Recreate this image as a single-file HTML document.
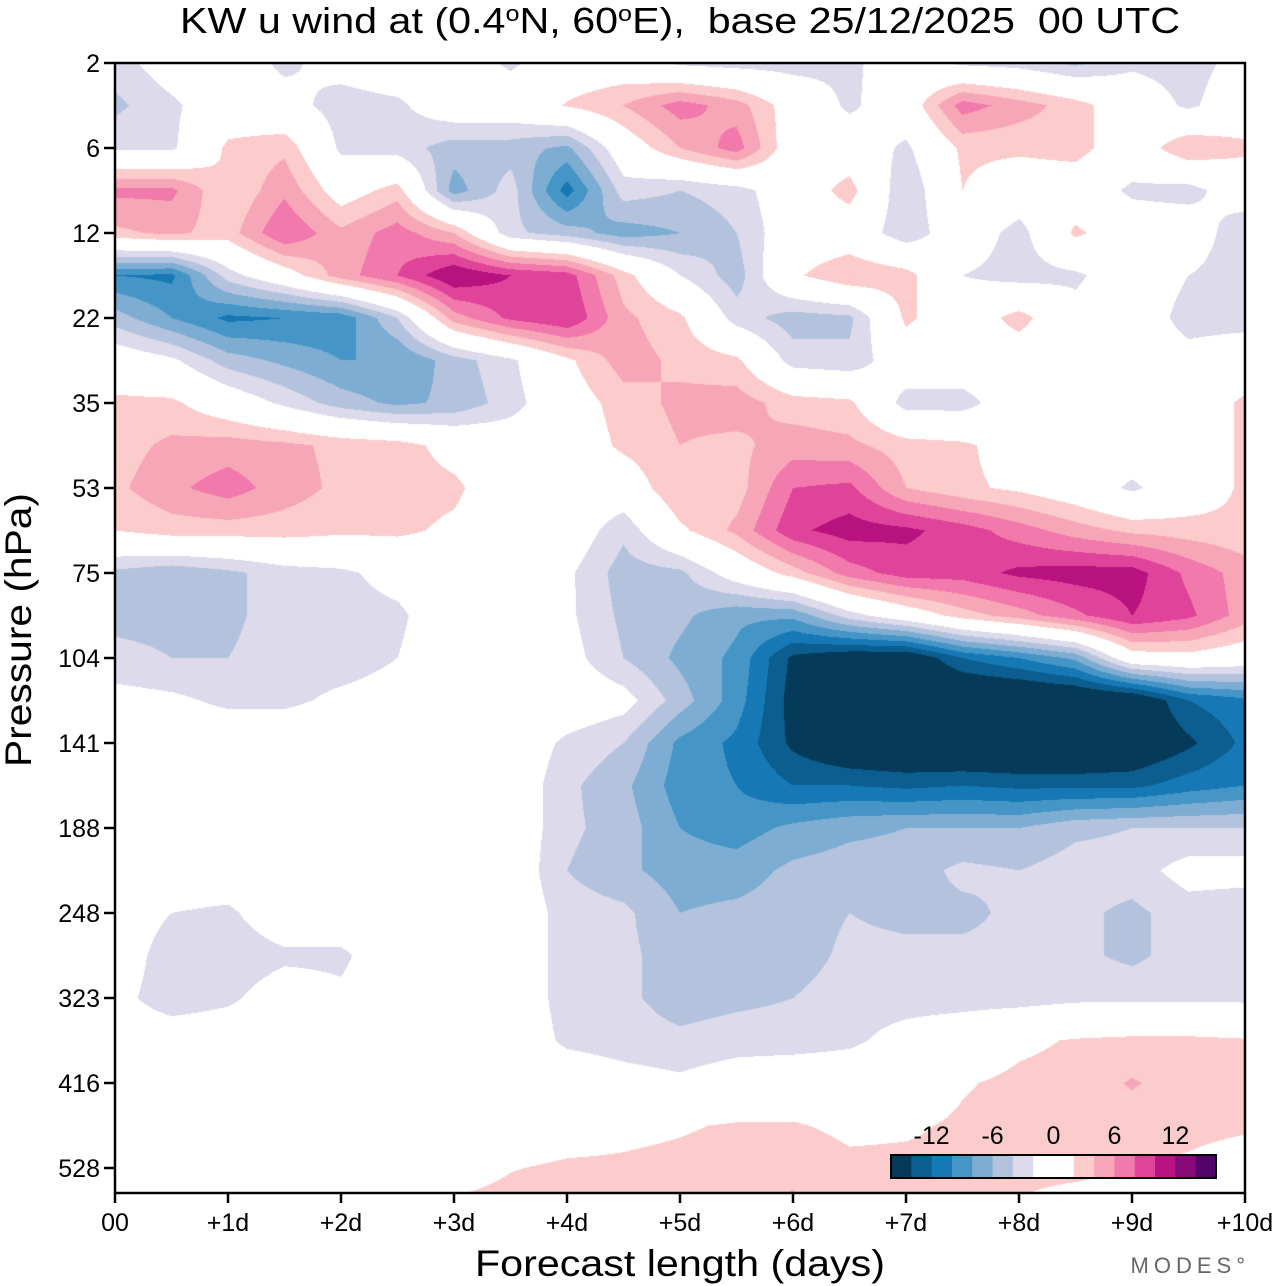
<!DOCTYPE html>
<html><head><meta charset="utf-8"><style>
html,body{margin:0;padding:0;background:#fff;}
#wrap{position:relative;width:1280px;height:1286px;overflow:hidden;font-family:"Liberation Sans",sans-serif;}
#field{position:absolute;left:115px;top:63px;}
#overlay{position:absolute;left:0;top:0;}
</style></head><body>
<div id="wrap">
<canvas id="field" width="1130" height="1130"></canvas>
<svg id="overlay" width="1280" height="1286"></svg>
</div>
<script>
// forecast days (columns) and pressure level labels
const days = [0,0.5,1,1.5,2,2.5,3,3.5,4,4.5,5,5.5,6,6.5,7,7.5,8,8.5,9,9.5,10];
const levelLabels = ['2','6','12','22','35','53','75','104','141','188','248','323','416','528'];
const dayLabels = ['00','+1d','+2d','+3d','+4d','+5d','+6d','+7d','+8d','+9d','+10d'];
const cbarLabels = ['-12','-6','0','6','12'];
const cbarValues = [-12,-6,0,6,12];
const levelColors = ['#053a5a','#0b5e8f','#1778b6','#4596c6','#7eadd3','#b3c3de','#dcdaeb','#ffffff','#ffffff','#fccbcb','#f7a6b8','#f279ab','#e0449a','#b8127f','#880a78','#530469'];
// u wind (m/s), rows at half-level steps from 2 hPa downward, columns every 0.5 day
const uRows = [
[-3,-0.5,-0.5,-2.5,-1,0,0,-2.5,0,0,-2.5,-3,-3,-2.5,-0.5,-2.5,-3,-4.5,-2.5,-3,-1],
[-4.5,-2.5,0,-1,-3,-2.5,0,0,2.2,4,7,5,0.5,-2.5,0,7,5,3,0,-2.5,0],
[-2.5,-2.5,2.5,3.5,-2.5,-3,-5,-5,-6.5,0,4,7,0,0,-2.5,2.5,2.5,3,0,4,2.5],
[6.5,6.5,2,5.5,0.5,3,-7,-3,-11,-3,-4,-3,0,3,-4,2,0,0,-2.5,-3,0],
[3.5,4.5,3,8,4.5,7,4,-3.5,-5,-7,-6,-4,0,0,-3.5,0,-3,2.5,0,0,-4],
[-10,-10.5,-3,0.5,5,8,12,10,9,3,-2,-5,1.5,4,3,-2,-3,-2.5,0,-2,-3.5],
[-5,-8,-10.5,-10,-9.5,-4,5,8.5,10,4.5,2.5,-3,-5,-4.5,2.5,0,3,-1,0,-3,-3],
[0,-1.5,-5,-6.5,-8,-8,-5,-2.5,1.5,5,3.5,2.5,-3,-3.5,0,0,0,-1,0,-1,0],
[2.5,2.5,0,-2.5,-5,-6.5,-5.5,-3,0.5,3,4.5,5,3,2.5,-3,-3,0,-1.5,0,0,2.5],
[3,4.5,5,4.5,3.5,3,1,0,0,2.5,4,3.5,5,4.5,3,2.5,0.5,0,0,0,2.5],
[3.5,5.5,7,5,3.5,3,2.5,0,0,0,4,3,8,8.5,4,2.5,1.5,0,-2.5,0,2.5],
[2,3,3,3,2.5,2.5,1.5,0,0,-3.5,1.5,4.5,9.5,11,10.5,9,7,5,3.5,3,2.5],
[-4.5,-5.5,-4.5,-3,-2.5,-1,0,-1,-1.5,-5,-4.5,-0.5,3,7,9,9,10.5,11,11,7.5,5],
[-4.5,-4.5,-4.5,-3,-3,-2.5,0,0,-1.5,-4.5,-5.5,-7.5,-7.5,-3,0,3,5,7.5,10,8.5,5],
[-3.5,-4,-4,-3,-3,-2,0,0,-1,-4,-6.5,-8.5,-14.5,-16,-16.5,-12,-10,-7.5,0.5,1,0],
[-1,-1.5,-2.5,-2.5,-1.5,-1,0,0,0,-1,-5,-9,-15,-17,-18,-18,-18,-17.5,-17,-12,-10.5],
[0,0,0,0,0,0,0,0,-2.5,-4,-8.5,-10.5,-14.5,-17,-17.5,-18,-18,-18,-17,-14.5,-11.5],
[0,0,0,0,0,0,0,0,-3.5,-5.5,-9,-10,-12,-12,-12.5,-12,-12.5,-12.5,-12.5,-11,-10],
[0,0,0,0,0,0,0,0,-3.5,-5,-8,-9,-7.5,-6.5,-6,-6,-6,-4.5,-4,-4,-4],
[0,0,0,0,0,0,0,0,-4,-5.5,-7,-7,-5.5,-5,-5,-3.5,-4,-3,-3,-1,-1],
[0,-2,-2.5,0,0,0,0,0,-3,-3.5,-6,-5.5,-5,-4,-4.5,-4.5,-3.5,-3.5,-4.5,-3,-3.5],
[0,-3.5,-3.5,-2.5,-2.5,0,0,0,-3,-3.5,-5,-5,-5,-3.5,-3.5,-3.5,-3.5,-3.5,-4.5,-3,-3],
[-1,-3.5,-2.5,-0.5,-1.5,0,-2,0,-3,-3.5,-5,-4.5,-4,-3,-3,-3,-3,-2.5,-2.5,-2.5,-2.5],
[0,0,0,0,0,0,0,0,-2.5,-3,-3.5,-3,-3,-2.5,-1,0,1.5,2.2,2.5,2.5,2.2],
[0,0,0,0,0,0,0,0,0,-1,-1.5,-0.5,0,0,0.5,1.8,2.5,2.8,4.2,3,2.5],
[0,0,0,0,0,0,0,0.5,1,1.5,1.8,2.2,2.2,1.5,1.7,2.3,2.7,3,3,2.8,2.4],
[0,0,0,0,0,0,1,1.9,2.3,2.3,2.5,2.8,3.5,2.5,2.5,2.5,2.5,2.5,2.2,1.5,0.5],
[0,0,0,0,0,0.5,2.5,2.8,3,3,3,3.5,4.5,3,2.8,2.5,1.8,1,0.3,0,0]
];

const X0=115, X1=1245, Y0=63, Y1=1193, LEVSTEP=85;
function xOfDay(d){ return X0 + (d/10)*(X1-X0); }
function yOfLevel(i){ return Y0 + i*LEVSTEP; }

// field
(function(){
  const cv=document.getElementById('field'); const ctx=cv.getContext('2d');
  const W=cv.width,H=cv.height; const img=ctx.createImageData(W,H);
  const rgb=levelColors.map(c=>[parseInt(c.substr(1,2),16),parseInt(c.substr(3,2),16),parseInt(c.substr(5,2),16)]);
  const nR=uRows.length, nC=days.length;
  for(let py=0;py<H;py++){
    let r=(py+0.5)/(LEVSTEP/2); if(r>nR-1)r=nR-1;
    const r0=Math.min(Math.floor(r),nR-2), fr=r-r0;
    for(let px=0;px<W;px++){
      const d=(px+0.5)/(X1-X0)*10; let c=d/(days[1]-days[0]); if(c>nC-1)c=nC-1;
      const c0=Math.min(Math.floor(c),nC-2), fc=c-c0;
      const v=(uRows[r0][c0]*(1-fc)+uRows[r0][c0+1]*fc)*(1-fr)+(uRows[r0+1][c0]*(1-fc)+uRows[r0+1][c0+1]*fc)*fr;
      let k=Math.floor(v/2)+8; if(k<0)k=0; if(k>15)k=15;
      const o=(py*W+px)*4; img.data[o]=rgb[k][0];img.data[o+1]=rgb[k][1];img.data[o+2]=rgb[k][2];img.data[o+3]=255;
    }
  }
  ctx.putImageData(img,0,0);
})();

// overlay
(function(){
  const NS='http://www.w3.org/2000/svg'; const svg=document.getElementById('overlay');
  function mk(tag,attrs,parent){const e=document.createElementNS(NS,tag);for(const k in attrs)e.setAttribute(k,attrs[k]);(parent||svg).appendChild(e);return e;}
  const title=mk('text',{x:680,y:33,'text-anchor':'middle','font-size':36,'font-family':'Liberation Sans, sans-serif',textLength:1000,lengthAdjust:'spacingAndGlyphs',style:'white-space:pre'});
  
  
  title.innerHTML='KW u wind at (0.4<tspan dy="-12" font-size="22">o</tspan><tspan dy="12">N, 60</tspan><tspan dy="-12" font-size="22">o</tspan><tspan dy="12">E),  base 25/12/2025  00 UTC</tspan>';
  const frame=mk('rect',{x:X0,y:Y0,width:X1-X0,height:Y1-Y0,fill:'none',stroke:'#000','stroke-width':2.5});
  
  
  levelLabels.forEach((lab,i)=>{
    const y=yOfLevel(i);
    const t=mk('line',{x1:X0-11,x2:X0,y1:y,y2:y,stroke:'#000','stroke-width':2.5});
    
    
    const tx=mk('text',{x:X0-15,y:y+9,'text-anchor':'end','font-size':25,'font-family':'Liberation Sans, sans-serif'});
    tx.textContent=lab;
    
    
  });
  dayLabels.forEach((lab,i)=>{
    const x=xOfDay(i);
    const t=mk('line',{x1:x,x2:x,y1:Y1,y2:Y1+10,stroke:'#000','stroke-width':2.5});
    
    
    const tx=mk('text',{x:x,y:1231,'text-anchor':'middle','font-size':25,'font-family':'Liberation Sans, sans-serif'});
    tx.textContent=lab;
    
    
  });
  const xt=mk('text',{x:680,y:1276,'text-anchor':'middle','font-size':37,'font-family':'Liberation Sans, sans-serif',textLength:410,lengthAdjust:'spacingAndGlyphs'});
  xt.textContent='Forecast length (days)';
  
  
  const yt=mk('text',{x:0,y:0,'text-anchor':'middle','font-size':37,'font-family':'Liberation Sans, sans-serif',transform:'translate(31,630) rotate(-90)',textLength:274,lengthAdjust:'spacingAndGlyphs'});
  yt.textContent='Pressure (hPa)';
  
  
  const logo=mk('text',{x:1250,y:1273,'text-anchor':'end','font-size':22,fill:'#666','letter-spacing':'5','font-family':'Liberation Sans, sans-serif'});
  logo.textContent='MODES°';
  
  
  // colorbar
  const cbX=891, cbY=1155, cbW=325, cbH=23, boxW=cbW/levelColors.length;
  const cbg=mk('g',{});
  
  
  levelColors.forEach((c,i)=>{
    const r=mk('rect',{x:cbX+i*boxW,y:cbY,width:boxW+0.5,height:cbH,fill:c},cbg);
    
    
  });
  mk('rect',{x:cbX,y:cbY,width:cbW,height:cbH,fill:'none',stroke:'#000','stroke-width':2},cbg);
  cbarValues.forEach((v,i)=>{
    const x=cbX+(v+16)/32*cbW;
    const t=mk('text',{x:x,y:1144,'text-anchor':'middle','font-size':25,'font-family':'Liberation Sans, sans-serif'},cbg);
    t.textContent=cbarLabels[i];
    
    
  });
})();
</script>
</body></html>
